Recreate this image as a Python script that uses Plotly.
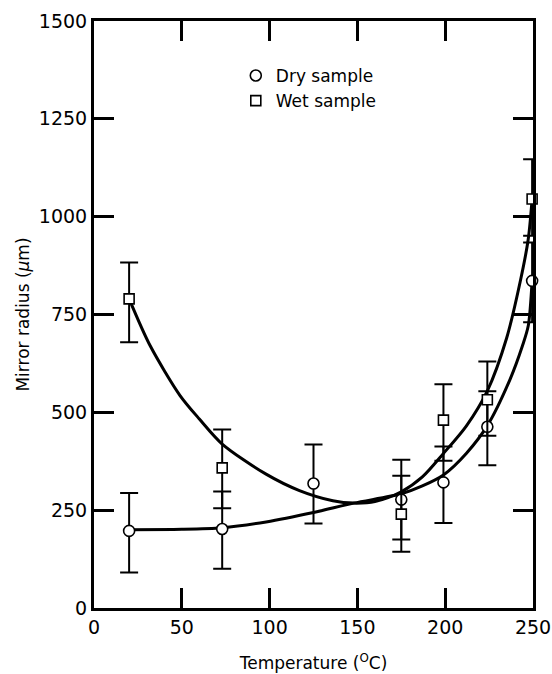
import plotly.graph_objects as go

# Measured mirror radius (um) versus temperature (deg C)
dry_temp = [20, 73, 125, 175, 199, 224, 249.5]
dry_radius = [197, 202, 318, 277, 321, 463, 836]
dry_err_plus = [97, 96, 100, 102, 92, 91, 98]
dry_err_minus = [106, 102, 102, 102, 104, 98, 106]

wet_temp = [20, 73, 175, 199, 224, 249.5]
wet_radius = [790, 358, 240, 480, 532, 1045]
wet_err_plus = [93, 98, 98, 92, 98, 102]
wet_err_minus = [111, 103, 96, 104, 92, 94]

# Hand-drawn trend curves through each data set
dry_curve_temp = [20, 50, 73, 98, 125, 148, 175, 187, 199, 212, 224, 237, 244, 247.3, 249.5]
dry_curve_radius = [200, 201, 205, 220, 244, 268, 292, 312, 340, 395, 466, 585, 670, 721, 836]

wet_curve_temp = [20, 32, 49, 60, 73, 98, 117, 136, 148, 160, 175, 187, 199, 212, 224, 235, 243, 247.3, 249.5]
wet_curve_radius = [790, 670, 543, 483, 419, 342, 300, 274, 268, 272, 297, 335, 395, 465, 555, 690, 840, 943, 1045]

x_ticks = [0, 50, 100, 150, 200, 250]
y_ticks = [0, 250, 500, 750, 1000, 1250, 1500]

FONT = "DejaVu Sans"
INK = "black"

fig = go.Figure()

for t, r in ((wet_curve_temp, wet_curve_radius), (dry_curve_temp, dry_curve_radius)):
    fig.add_trace(go.Scatter(
        x=t, y=r, mode="lines",
        line=dict(color=INK, width=3, shape="spline", smoothing=0.8),
        showlegend=False, hoverinfo="skip", cliponaxis=False,
    ))

fig.add_trace(go.Scatter(
    x=dry_temp, y=dry_radius, mode="markers", name="Dry sample",
    marker=dict(symbol="circle", size=11, color="white", line=dict(color=INK, width=1.6)),
    error_y=dict(type="data", array=dry_err_plus, arrayminus=dry_err_minus,
                 color=INK, thickness=2, width=9),
    cliponaxis=False,
))
fig.add_trace(go.Scatter(
    x=wet_temp, y=wet_radius, mode="markers", name="Wet sample",
    marker=dict(symbol="square", size=10, color="white", line=dict(color=INK, width=1.6)),
    error_y=dict(type="data", array=wet_err_plus, arrayminus=wet_err_minus,
                 color=INK, thickness=2, width=9),
    cliponaxis=False,
))

axis_common = dict(
    showline=True, linecolor=INK, linewidth=3, mirror="ticks",
    ticks="inside", ticklen=20, tickwidth=2.5, tickcolor=INK,
    showgrid=False, zeroline=False, automargin=True,
    tickfont=dict(family=FONT, size=19, color=INK),
)

fig.update_xaxes(
    range=[0, 250], tickvals=x_ticks, ticktext=[str(v) for v in x_ticks],
    title=dict(text="Temperature (<sup>O</sup>C)", standoff=21,
               font=dict(family=FONT, size=17, color=INK)),
    **axis_common,
)
fig.update_yaxes(
    range=[0, 1500], tickvals=y_ticks, ticktext=[str(v) for v in y_ticks],
    title=dict(text="Mirror radius (<i>\u03bc</i>m)", standoff=5,
               font=dict(family=FONT, size=17, color=INK)),
    **axis_common,
)

fig.update_layout(
    width=552, height=674,
    margin=dict(l=94, r=19, t=21, b=66, autoexpand=False),
    paper_bgcolor="white", plot_bgcolor="white",
    font=dict(family=FONT, color=INK),
    legend=dict(
        x=0.323, y=0.937, xanchor="left", yanchor="top",
        font=dict(family=FONT, size=17, color=INK),
        bgcolor="rgba(0,0,0,0)", itemwidth=30, tracegroupgap=0,
    ),
)

fig.write_html("out.html")
